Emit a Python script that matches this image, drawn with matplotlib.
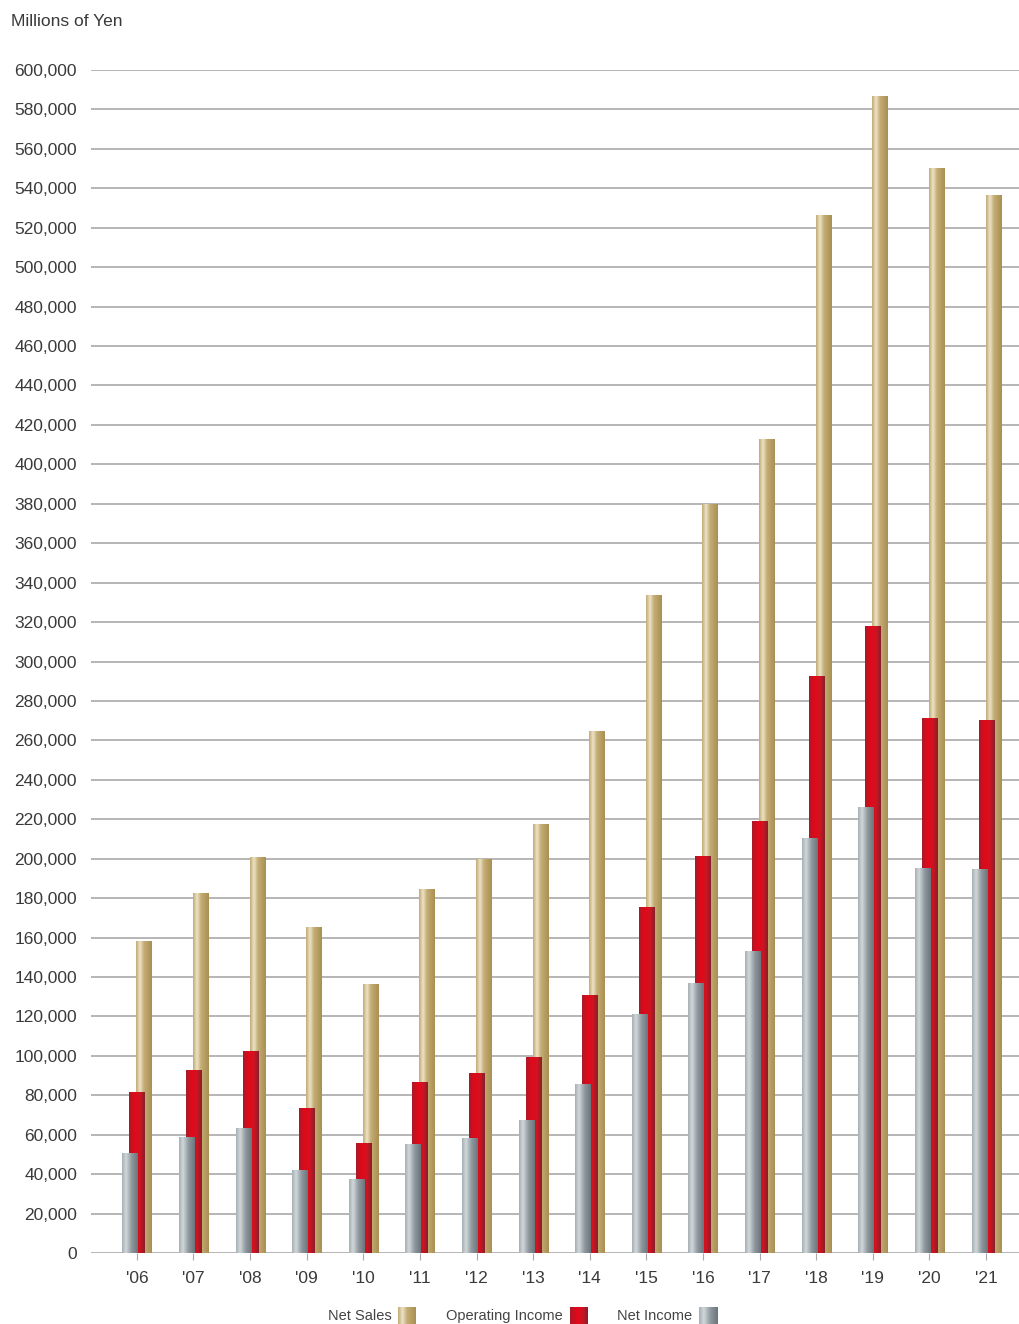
import numpy as np
import matplotlib
matplotlib.use("Agg")
import matplotlib.pyplot as plt
from matplotlib.colors import LinearSegmentedColormap

plt.rcParams['font.family'] = ['Liberation Sans', 'DejaVu Sans']

years = ["'06", "'07", "'08", "'09", "'10", "'11", "'12", "'13",
         "'14", "'15", "'16", "'17", "'18", "'19", "'20", "'21"]
net_sales = [158200, 182600, 200900, 165400, 136400, 184600, 199800, 217600,
             264800, 333700, 379900, 412900, 526500, 586800, 550300, 536600]
operating_income = [81700, 92800, 102400, 73500, 55800, 86700, 91300, 99400,
                    130900, 175500, 201400, 219100, 292600, 318000, 271400, 270300]
net_income = [50700, 58800, 63400, 42100, 37500, 55300, 58300, 67500,
              85700, 121200, 137000, 153200, 210500, 226200, 195300, 194800]
y_ticks = list(range(0, 600001, 20000))

gold_cmap = LinearSegmentedColormap.from_list(
    "gold", [(0, "#c2ab74"), (0.25, "#ede3c9"), (0.5, "#c4ad74"), (1, "#a98f52")])
red_cmap = LinearSegmentedColormap.from_list(
    "red", [(0, "#a91a28"), (0.35, "#e2081a"), (0.7, "#cf1422"), (1, "#86202a")])
grey_cmap = LinearSegmentedColormap.from_list(
    "grey", [(0, "#a6afb4"), (0.25, "#d2d8db"), (0.6, "#8f999f"), (1, "#6b757b")])

W, H = 1020, 1324
fig = plt.figure(figsize=(W / 100, H / 100), dpi=100)
ax_left, ax_right = 91 / W, 1020 / W
ax_bottom, ax_top = (H - 1253) / H, (H - 70) / H
ax = fig.add_axes([ax_left, ax_bottom, ax_right - ax_left, ax_top - ax_bottom])

x = np.arange(len(years))
bw = 0.265
off = 0.124
grad = np.linspace(0, 1, 64).reshape(1, -1)


def gradient_bars(xs, vals, cmap, z):
    bars = ax.bar(xs, vals, width=bw, color="none", edgecolor="none", zorder=z)
    for b in bars:
        x0, y0 = b.get_x(), b.get_y()
        im = ax.imshow(grad, cmap=cmap, aspect="auto",
                       extent=[x0, x0 + b.get_width(), y0, y0 + b.get_height()],
                       zorder=z, interpolation="bilinear")
        im.set_clip_path(b)


gradient_bars(x + off, net_sales, gold_cmap, 3)
gradient_bars(x, operating_income, red_cmap, 4)
gradient_bars(x - off, net_income, grey_cmap, 5)

ax.set_xlim(-0.81, 15.6)
ax.set_ylim(0, 600000)
ax.set_yticks(y_ticks)
ax.set_yticklabels([f"{v:,}" for v in y_ticks], fontsize=12.5, color="#3a3a3a")
ax.set_xticks(x)
ax.set_xticklabels(years, fontsize=12.5, color="#3a3a3a")
ax.tick_params(axis="y", length=0, pad=10)
ax.tick_params(axis="x", length=5, color="#aaaaaa", pad=8, direction="out")
for s in ax.spines.values():
    s.set_visible(False)
ax.yaxis.grid(True, color="#b0b0b0", linewidth=1.3, zorder=1)
ax.set_axisbelow(True)

fig.text(11 / W, 1 - 22 / H, "Millions of Yen", fontsize=12.5, color="#3a3a3a",
         ha="left", va="center")

# legend
legend_items = [("Net Sales", gold_cmap, 392, 398),
                ("Operating Income", red_cmap, 563, 570),
                ("Net Income", grey_cmap, 692, 699)]
for label, cmap, text_right, sw_left in legend_items:
    fig.text(text_right / W, 1 - 1316 / H, label, fontsize=10.5, color="#444444",
             ha="right", va="center")
    lax = fig.add_axes([sw_left / W, (H - 1324) / H, 18 / W, 17 / H])
    lax.imshow(grad, cmap=cmap, aspect="auto", interpolation="bilinear")
    lax.set_axis_off()

fig.savefig("out.png", dpi=100)
